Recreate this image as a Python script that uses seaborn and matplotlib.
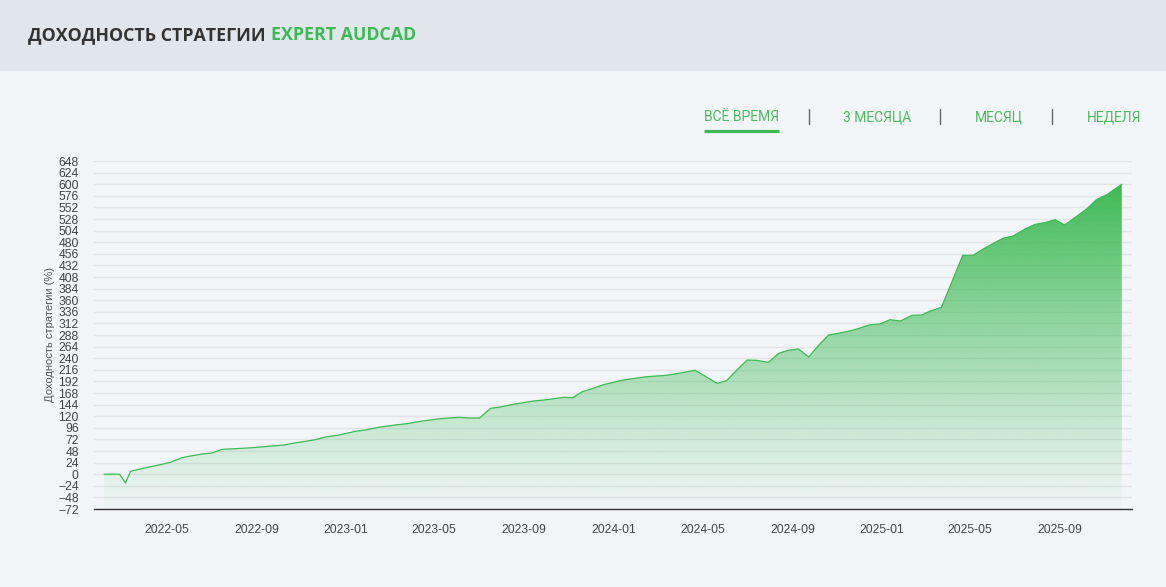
import numpy as np
import pandas as pd
import matplotlib
matplotlib.use("Agg")
import matplotlib.pyplot as plt
import matplotlib.dates as mdates
from matplotlib.lines import Line2D
from matplotlib.patches import Rectangle
import seaborn as sns

# strategy return curve
dates = [
    "2022-02-05", "2022-02-26", "2022-03-06", "2022-03-13", "2022-04-09", "2022-04-25",
    "2022-05-06", "2022-05-22", "2022-06-05", "2022-06-19", "2022-07-02", "2022-07-16",
    "2022-08-03", "2022-08-26", "2022-09-17", "2022-10-08", "2022-10-23", "2022-11-18",
    "2022-12-04", "2022-12-22", "2023-01-14", "2023-01-27", "2023-02-14", "2023-03-09",
    "2023-03-25", "2023-04-12", "2023-05-09", "2023-06-03", "2023-06-17", "2023-07-02",
    "2023-07-17", "2023-07-30", "2023-08-17", "2023-09-14", "2023-10-02", "2023-10-25",
    "2023-11-06", "2023-11-19", "2023-11-30", "2023-12-18", "2024-01-14", "2024-02-15",
    "2024-03-13", "2024-04-01", "2024-04-21", "2024-05-02", "2024-05-21", "2024-06-03",
    "2024-06-17", "2024-07-01", "2024-07-14", "2024-07-30", "2024-08-13", "2024-08-26",
    "2024-09-09", "2024-09-23", "2024-10-06", "2024-10-20", "2024-11-02", "2024-11-18",
    "2024-12-02", "2024-12-16", "2024-12-29", "2025-01-12", "2025-01-26", "2025-02-11",
    "2025-02-24", "2025-03-07", "2025-03-23", "2025-04-21", "2025-05-05", "2025-05-19",
    "2025-06-02", "2025-06-15", "2025-06-29", "2025-07-15", "2025-07-29", "2025-08-11",
    "2025-08-25", "2025-09-07", "2025-09-21", "2025-10-07", "2025-10-21", "2025-11-03",
    "2025-11-24",
]
returns = [
    0.0, 0.0, -18.0, 6.0, 15.5, 20.5,
    24.6, 34.0, 38.3, 41.8, 43.9, 51.5,
    52.8, 54.8, 57.7, 60.4, 64.6, 70.8,
    77.0, 81.0, 88.8, 91.5, 97.0, 101.8,
    104.5, 109.4, 114.8, 117.7, 116.3, 116.3,
    136.3, 139.0, 144.6, 151.5, 154.2, 159.1,
    158.3, 170.7, 175.7, 185.2, 194.9, 201.7,
    204.6, 209.4, 215.0, 205.3, 188.0, 193.5,
    215.6, 236.3, 235.6, 231.5, 250.1, 256.4,
    259.0, 242.5, 265.9, 288.0, 291.5, 296.3,
    302.5, 309.3, 310.8, 319.7, 317.0, 328.8,
    329.4, 337.1, 345.3, 452.9, 452.9, 466.0,
    477.8, 488.1, 492.9, 507.4, 517.0, 520.4,
    526.6, 515.6, 530.8, 548.7, 568.8, 577.7,
    599.8,
]
y_ticks = list(range(-72, 649, 24))
x_ticks = ["2022-05-01", "2022-09-01", "2023-01-01", "2023-05-01", "2023-09-01",
           "2024-01-01", "2024-05-01", "2024-09-01", "2025-01-01", "2025-05-01", "2025-09-01"]
tabs = ["ВСЁ ВРЕМЯ", "3 МЕСЯЦА", "МЕСЯЦ", "НЕДЕЛЯ"]

df = pd.DataFrame({"date": pd.to_datetime(dates), "ret": returns})

GREEN = "#3dba54"
BG = "#f3f6f9"
W, H = 1166, 587

sns.set_style("white", {"axes.facecolor": BG, "figure.facecolor": BG})
plt.rcParams["font.family"] = ["Roboto", "DejaVu Sans"]

fig = plt.figure(figsize=(W / 100, H / 100), dpi=100)
fig.patch.set_facecolor(BG)
ax = fig.add_axes([94 / W, 1 - 509 / H, (1132 - 94) / W, (509 - 161) / H])
ax.set_facecolor(BG)

# header band
fig.patches.append(Rectangle((0, 1 - 70 / H), 1, 70 / H, transform=fig.transFigure,
                             color="#e1e5ec", zorder=0))
t1 = fig.text(28 / W, 1 - 35 / H, "ДОХОДНОСТЬ СТРАТЕГИИ", fontsize=12.8, fontweight="bold",
              color="#333333", va="center", ha="left", family=["Open Sans", "DejaVu Sans"])
fig.canvas.draw()
t1_end = t1.get_window_extent().x1
fig.text((t1_end + 5) / W, 1 - 35 / H, "EXPERT AUDCAD", fontsize=12.8, fontweight="bold",
         color=GREEN, va="center", ha="left", family=["Open Sans", "DejaVu Sans"])

# period tabs
tab_x = [704, 843, 975, 1087]
for tx, label in zip(tab_x, tabs):
    fig.text(tx / W, 1 - 117 / H, label, fontsize=10, color="#4cbb5f",
             va="center", ha="left")
fig.add_artist(Line2D([704 / W, 779 / W], [1 - 130.5 / H] * 2, color=GREEN, lw=2.3,
                      solid_capstyle="butt", transform=fig.transFigure))
for sx in [809, 940, 1052]:
    fig.add_artist(Line2D([sx / W] * 2, [1 - 109 / H, 1 - 124 / H], color="#666666",
                          lw=1, transform=fig.transFigure))

# line + gradient fill
sns.lineplot(data=df, x="date", y="ret", ax=ax, color=GREEN, lw=0.9, zorder=3)
poly = ax.fill_between(df["date"], df["ret"], -72, color="none", lw=0)
ax.margins(x=0.01)
ax.set_ylim(-72, 648)
x0, x1 = ax.get_xlim()

n = 256
alpha = np.linspace(0.0, 1.0, n) ** 1.1 * 0.97 + 0.02
grad = np.zeros((n, 1, 4))
grad[:, 0, :3] = matplotlib.colors.to_rgb(GREEN)
grad[:, 0, 3] = alpha
im = ax.imshow(grad, aspect="auto", origin="lower",
               extent=[mdates.date2num(df["date"].min()), mdates.date2num(df["date"].max()),
                       -72, max(returns)], zorder=2)
im.set_clip_path(poly.get_paths()[0], transform=ax.transData)
ax.set_xlim(x0, x1)
ax.set_ylim(-72, 648)

# axes styling
ax.set_yticks(y_ticks)
ax.set_xticks(pd.to_datetime(x_ticks))
ax.xaxis.set_major_formatter(mdates.DateFormatter("%Y-%m"))
ax.yaxis.grid(True, color="#e2e4e8", lw=1)
ax.set_axisbelow(True)
for s in ["top", "right", "left"]:
    ax.spines[s].set_visible(False)
ax.spines["bottom"].set_color("#333333")
ax.spines["bottom"].set_linewidth(1)
ax.tick_params(axis="y", length=0, pad=11, labelsize=8.7, labelcolor="#444444")
ax.tick_params(axis="x", length=7, width=1, color="#333333", pad=4, labelsize=8.7,
               labelcolor="#444444")
for lab in ax.get_xticklabels() + ax.get_yticklabels():
    lab.set_family(["Liberation Sans", "DejaVu Sans"])
ax.set_xlabel("")
ax.set_ylabel("Доходность стратегии (%)", fontsize=8, color="#555555", labelpad=2,
              family=["Liberation Sans", "DejaVu Sans"])

fig.savefig("out.png", dpi=100, facecolor=BG)
